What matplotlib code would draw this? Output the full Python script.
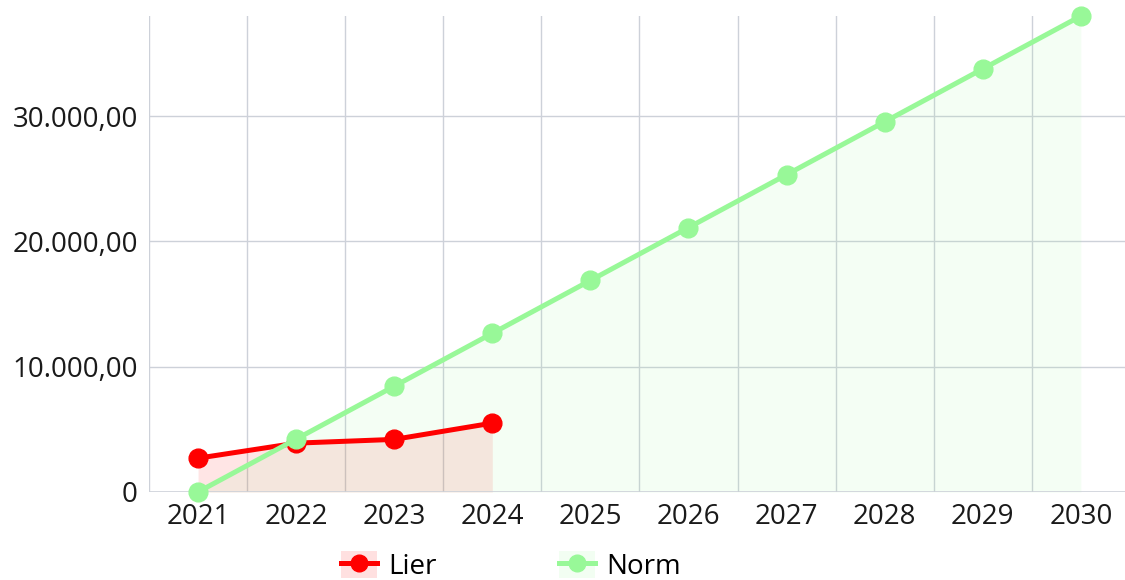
import matplotlib.pyplot as plt
from matplotlib.patches import Patch
from matplotlib.lines import Line2D
from matplotlib.legend_handler import HandlerTuple

plt.rcParams['font.family'] = ['Open Sans', 'DejaVu Sans']

# Daten
jahre = ['2021', '2022', '2023', '2024', '2025', '2026', '2027', '2028', '2029', '2030']
lier = [2700, 3900, 4200, 5500]
norm = [0, 4222, 8444, 12667, 16889, 21111, 25333, 29556, 33778, 38000]
y_ticks = [0, 10000, 20000, 30000]
y_labels = ['0', '10.000,00', '20.000,00', '30.000,00']

rot = '#ff0000'
gruen = '#98f898'
gitter = '#cdd1d9'

fig = plt.figure(figsize=(11.25, 5.8), dpi=100)
ax = fig.add_axes([149 / 1125, 88 / 580, (1125 - 149) / 1125, (492 - 16) / 580])

x_lier = list(range(len(lier)))
x_norm = list(range(len(norm)))

# Flächen
ax.fill_between(x_lier, lier, 0, color=rot, alpha=0.1, linewidth=0, zorder=1)
ax.fill_between(x_norm, norm, 0, color=gruen, alpha=0.1, linewidth=0, zorder=1)

# Linien
ax.plot(x_lier, lier, color=rot, linewidth=3.6, marker='o', markersize=13.5,
        zorder=4, clip_on=False)
ax.plot(x_norm, norm, color=gruen, linewidth=3.6, marker='o', markersize=13.5,
        zorder=5, clip_on=False)

ax.set_xlim(-0.5, 9.45)
ax.set_ylim(0, 38000)

# Gitter
for g in [i + 0.5 for i in range(-1, 9)]:
    ax.axvline(g, color=gitter, linewidth=1, zorder=0)
for t in y_ticks[1:]:
    ax.axhline(t, color=gitter, linewidth=1, zorder=0)
ax.axhline(0, color=gitter, linewidth=1.2, zorder=2)

ax.set_xticks(x_norm)
ax.set_xticklabels(jahre)
ax.set_yticks(y_ticks)
ax.set_yticklabels(y_labels)
ax.tick_params(axis='both', length=0, labelsize=20, colors='#1a1a1a')
ax.tick_params(axis='x', pad=8)
ax.tick_params(axis='y', pad=8)
for s in ax.spines.values():
    s.set_visible(False)

handles = [
    (Patch(facecolor=rot, alpha=0.12, edgecolor='none'),
     Line2D([], [], color=rot, linewidth=3.6, marker='o', markersize=12)),
    (Patch(facecolor=gruen, alpha=0.12, edgecolor='none'),
     Line2D([], [], color=gruen, linewidth=3.6, marker='o', markersize=12)),
]
fig.legend(handles, ['Lier', 'Norm'], handler_map={tuple: HandlerTuple(ndivide=1, pad=0)},
           loc='center', bbox_to_anchor=(511 / 1125, 14 / 580), ncol=2, frameon=False,
           fontsize=20, handlelength=1.3, handleheight=1.15, handletextpad=0.4,
           columnspacing=4.4)

fig.savefig('out.png', dpi=100)
